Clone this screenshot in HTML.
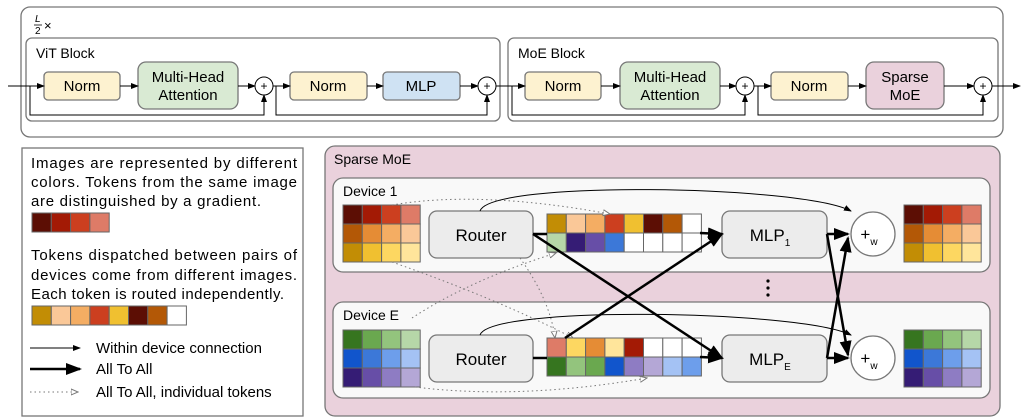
<!DOCTYPE html>
<html><head><meta charset="utf-8"><style>
body{margin:0;background:#fff}
svg{display:block;font-family:"Liberation Sans",sans-serif}
</style></head><body>
<svg width="1024" height="418" viewBox="0 0 1024 418" xmlns="http://www.w3.org/2000/svg">
<defs>
<marker id="a" markerWidth="8" markerHeight="6" refX="7" refY="3" orient="auto" markerUnits="userSpaceOnUse"><path d="M0,0 L8,3 L0,6z" fill="#000"/></marker>
<marker id="b" markerWidth="16" markerHeight="12" refX="14" refY="6" orient="auto" markerUnits="userSpaceOnUse"><path d="M0,0 L16,6 L0,12z" fill="#000"/></marker>
<marker id="d" markerWidth="8" markerHeight="8" refX="7" refY="4" orient="auto" markerUnits="userSpaceOnUse"><path d="M0,1 L7,4 L0,7z" fill="#fff" stroke="#777" stroke-width="1"/></marker>
</defs>
<rect x="21" y="7" width="982" height="130" rx="9" fill="#fff" stroke="#777" stroke-width="1.3"/>
<text x="35" y="22" font-size="10" font-style="italic">L</text><line x1="34" y1="25" x2="42" y2="25" stroke="#000" stroke-width="0.8"/><text x="35" y="34" font-size="10">2</text><text x="44" y="30" font-size="13">×</text>
<rect x="26" y="38" width="474" height="83" rx="6" fill="#fff" stroke="#777" stroke-width="1.3"/>
<rect x="508" y="38" width="490" height="83" rx="6" fill="#fff" stroke="#777" stroke-width="1.3"/>
<text x="36" y="58" font-size="14">ViT Block</text>
<text x="518" y="58" font-size="14">MoE Block</text>
<g stroke="#777" stroke-width="1.3">
<rect x="44" y="72" width="76" height="28" rx="4" fill="#fdf2d0"/>
<rect x="138" y="62" width="100" height="47" rx="8" fill="#d9ead3"/>
<rect x="290" y="72" width="77" height="28" rx="4" fill="#fdf2d0"/>
<rect x="383" y="72" width="77" height="28" rx="4" fill="#cfe2f3"/>
<rect x="525" y="72" width="76" height="28" rx="4" fill="#fdf2d0"/>
<rect x="620" y="62" width="100" height="47" rx="8" fill="#d9ead3"/>
<rect x="771" y="72" width="77" height="28" rx="4" fill="#fdf2d0"/>
<rect x="866" y="62" width="78" height="47" rx="8" fill="#ead1dc"/>
</g>
<g font-size="15" text-anchor="middle">
<text x="82" y="91">Norm</text><text x="188" y="82">Multi-Head</text><text x="188" y="100">Attention</text>
<text x="328" y="91">Norm</text><text x="421" y="91">MLP</text>
<text x="563" y="91">Norm</text><text x="670" y="82">Multi-Head</text><text x="670" y="100">Attention</text>
<text x="809" y="91">Norm</text><text x="905" y="82">Sparse</text><text x="905" y="100">MoE</text>
</g>
<g stroke="#000" stroke-width="1" fill="none">
<line x1="8" y1="86" x2="44" y2="86" marker-end="url(#a)"/>
<line x1="120" y1="86" x2="138" y2="86" marker-end="url(#a)"/>
<line x1="238" y1="86" x2="255" y2="86" marker-end="url(#a)"/>
<line x1="273" y1="86" x2="290" y2="86" marker-end="url(#a)"/>
<line x1="367" y1="86" x2="383" y2="86" marker-end="url(#a)"/>
<line x1="460" y1="86" x2="478" y2="86" marker-end="url(#a)"/>
<line x1="496" y1="86" x2="525" y2="86" marker-end="url(#a)"/>
<line x1="601" y1="86" x2="620" y2="86" marker-end="url(#a)"/>
<line x1="720" y1="86" x2="736" y2="86" marker-end="url(#a)"/>
<line x1="754" y1="86" x2="771" y2="86" marker-end="url(#a)"/>
<line x1="848" y1="86" x2="866" y2="86" marker-end="url(#a)"/>
<line x1="944" y1="86" x2="974" y2="86" marker-end="url(#a)"/>
<line x1="992" y1="86" x2="1020" y2="86" marker-end="url(#a)"/>
<polyline points="30,86 30,115 264,115 264,95" marker-end="url(#a)"/>
<polyline points="276,86 276,115 487,115 487,95" marker-end="url(#a)"/>
<polyline points="512,86 512,115 745,115 745,95" marker-end="url(#a)"/>
<polyline points="758,86 758,115 983,115 983,95" marker-end="url(#a)"/>
</g>
<g fill="#fff" stroke="#000" stroke-width="1">
<circle cx="264" cy="86" r="9"/><circle cx="487" cy="86" r="9"/><circle cx="745" cy="86" r="9"/><circle cx="983" cy="86" r="9"/>
</g>
<g font-size="12" text-anchor="middle"><text x="264" y="90">+</text><text x="487" y="90">+</text><text x="745" y="90">+</text><text x="983" y="90">+</text></g>

<rect x="22" y="148" width="281" height="268" fill="#fff" stroke="#777" stroke-width="1.3"/>
<g font-size="15">
<text x="31" y="168" textLength="266">Images are represented by different</text>
<text x="31" y="187" textLength="266">colors. Tokens from the same image</text>
<text x="31" y="206" textLength="230">are distinguished by a gradient.</text>
<text x="31" y="260" textLength="266">Tokens dispatched between pairs of</text>
<text x="31" y="280" textLength="266">devices come from different images.</text>
<text x="31" y="299" textLength="253">Each token is routed independently.</text>
<text x="96" y="353">Within device connection</text>
<text x="96" y="374">All To All</text>
<text x="96" y="397">All To All, individual tokens</text>
</g>
<g stroke="#666" stroke-width="1">
<rect x="32" y="213" width="19.3" height="19" fill="#5c0e04"/><rect x="51.3" y="213" width="19.3" height="19" fill="#a31a05"/><rect x="70.6" y="213" width="19.3" height="19" fill="#cc3f1f"/><rect x="89.9" y="213" width="19.3" height="19" fill="#de7b67"/>
<rect x="32" y="306" width="19.3" height="19" fill="#c28d05"/><rect x="51.3" y="306" width="19.3" height="19" fill="#fac898"/><rect x="70.6" y="306" width="19.3" height="19" fill="#f4ad63"/><rect x="89.9" y="306" width="19.3" height="19" fill="#cc3f1f"/><rect x="109.2" y="306" width="19.3" height="19" fill="#f0c030"/><rect x="128.5" y="306" width="19.3" height="19" fill="#5c0e04"/><rect x="147.8" y="306" width="19.3" height="19" fill="#b35806"/><rect x="167.1" y="306" width="19.3" height="19" fill="#fff"/>
</g>
<line x1="30" y1="348" x2="80" y2="348" stroke="#000" stroke-width="1" marker-end="url(#a)"/>
<line x1="30" y1="369" x2="80" y2="369" stroke="#000" stroke-width="2.5" marker-end="url(#b)"/>
<line x1="30" y1="392" x2="78" y2="392" stroke="#777" stroke-width="1" stroke-dasharray="1.5,3" marker-end="url(#d)"/>

<rect x="325" y="146" width="675" height="270" rx="10" fill="#ead1dc" stroke="#777" stroke-width="1.3"/>
<text x="334" y="164" font-size="14">Sparse MoE</text>
<rect x="333" y="178" width="657" height="94" rx="10" fill="#f9f9f9" stroke="#777" stroke-width="1.3"/>
<rect x="333" y="302" width="657" height="96" rx="10" fill="#f9f9f9" stroke="#777" stroke-width="1.3"/>
<text x="343" y="196" font-size="14">Device 1</text>
<text x="343" y="320" font-size="14">Device E</text>
<g fill="#000"><circle cx="768" cy="281" r="1.6"/><circle cx="768" cy="288" r="1.6"/><circle cx="768" cy="295" r="1.6"/></g>

<g stroke="#666" stroke-width="1">
<g transform="translate(343,205)">
<rect x="0" y="0" width="19.3" height="19" fill="#5c0e04"/><rect x="19.3" y="0" width="19.3" height="19" fill="#a31a05"/><rect x="38.6" y="0" width="19.3" height="19" fill="#cc3f1f"/><rect x="57.9" y="0" width="19.3" height="19" fill="#de7b67"/>
<rect x="0" y="19" width="19.3" height="19" fill="#b35806"/><rect x="19.3" y="19" width="19.3" height="19" fill="#e58c35"/><rect x="38.6" y="19" width="19.3" height="19" fill="#f4ad63"/><rect x="57.9" y="19" width="19.3" height="19" fill="#fac898"/>
<rect x="0" y="38" width="19.3" height="19" fill="#c28d05"/><rect x="19.3" y="38" width="19.3" height="19" fill="#f0c030"/><rect x="38.6" y="38" width="19.3" height="19" fill="#fdd761"/><rect x="57.9" y="38" width="19.3" height="19" fill="#ffe59b"/>
</g>
<g transform="translate(904,205)">
<rect x="0" y="0" width="19.3" height="19" fill="#5c0e04"/><rect x="19.3" y="0" width="19.3" height="19" fill="#a31a05"/><rect x="38.6" y="0" width="19.3" height="19" fill="#cc3f1f"/><rect x="57.9" y="0" width="19.3" height="19" fill="#de7b67"/>
<rect x="0" y="19" width="19.3" height="19" fill="#b35806"/><rect x="19.3" y="19" width="19.3" height="19" fill="#e58c35"/><rect x="38.6" y="19" width="19.3" height="19" fill="#f4ad63"/><rect x="57.9" y="19" width="19.3" height="19" fill="#fac898"/>
<rect x="0" y="38" width="19.3" height="19" fill="#c28d05"/><rect x="19.3" y="38" width="19.3" height="19" fill="#f0c030"/><rect x="38.6" y="38" width="19.3" height="19" fill="#fdd761"/><rect x="57.9" y="38" width="19.3" height="19" fill="#ffe59b"/>
</g>
<g transform="translate(343,330)">
<rect x="0" y="0" width="19.3" height="19" fill="#36751f"/><rect x="19.3" y="0" width="19.3" height="19" fill="#6aa84f"/><rect x="38.6" y="0" width="19.3" height="19" fill="#93c47d"/><rect x="57.9" y="0" width="19.3" height="19" fill="#b6d7a8"/>
<rect x="0" y="19" width="19.3" height="19" fill="#1155cc"/><rect x="19.3" y="19" width="19.3" height="19" fill="#3c78d8"/><rect x="38.6" y="19" width="19.3" height="19" fill="#6d9eeb"/><rect x="57.9" y="19" width="19.3" height="19" fill="#a4c2f4"/>
<rect x="0" y="38" width="19.3" height="19" fill="#351c75"/><rect x="19.3" y="38" width="19.3" height="19" fill="#674ea7"/><rect x="38.6" y="38" width="19.3" height="19" fill="#8e7cc3"/><rect x="57.9" y="38" width="19.3" height="19" fill="#b4a7d6"/>
</g>
<g transform="translate(904,330)">
<rect x="0" y="0" width="19.3" height="19" fill="#36751f"/><rect x="19.3" y="0" width="19.3" height="19" fill="#6aa84f"/><rect x="38.6" y="0" width="19.3" height="19" fill="#93c47d"/><rect x="57.9" y="0" width="19.3" height="19" fill="#b6d7a8"/>
<rect x="0" y="19" width="19.3" height="19" fill="#1155cc"/><rect x="19.3" y="19" width="19.3" height="19" fill="#3c78d8"/><rect x="38.6" y="19" width="19.3" height="19" fill="#6d9eeb"/><rect x="57.9" y="19" width="19.3" height="19" fill="#a4c2f4"/>
<rect x="0" y="38" width="19.3" height="19" fill="#351c75"/><rect x="19.3" y="38" width="19.3" height="19" fill="#674ea7"/><rect x="38.6" y="38" width="19.3" height="19" fill="#8e7cc3"/><rect x="57.9" y="38" width="19.3" height="19" fill="#b4a7d6"/>
</g>
<g transform="translate(547,214)">
<rect x="0" y="0" width="19.3" height="19" fill="#c28d05"/><rect x="19.3" y="0" width="19.3" height="19" fill="#fac898"/><rect x="38.6" y="0" width="19.3" height="19" fill="#f4ad63"/><rect x="57.9" y="0" width="19.3" height="19" fill="#cc3f1f"/><rect x="77.2" y="0" width="19.3" height="19" fill="#f0c030"/><rect x="96.5" y="0" width="19.3" height="19" fill="#5c0e04"/><rect x="115.8" y="0" width="19.3" height="19" fill="#b35806"/><rect x="135.1" y="0" width="19.3" height="19" fill="#fff"/>
<rect x="0" y="19" width="19.3" height="19" fill="#b6d7a8"/><rect x="19.3" y="19" width="19.3" height="19" fill="#351c75"/><rect x="38.6" y="19" width="19.3" height="19" fill="#674ea7"/><rect x="57.9" y="19" width="19.3" height="19" fill="#3c78d8"/><rect x="77.2" y="19" width="19.3" height="19" fill="#fff"/><rect x="96.5" y="19" width="19.3" height="19" fill="#fff"/><rect x="115.8" y="19" width="19.3" height="19" fill="#fff"/><rect x="135.1" y="19" width="19.3" height="19" fill="#fff"/>
</g>
<g transform="translate(547,338)">
<rect x="0" y="0" width="19.3" height="19" fill="#de7b67"/><rect x="19.3" y="0" width="19.3" height="19" fill="#fdd761"/><rect x="38.6" y="0" width="19.3" height="19" fill="#e58c35"/><rect x="57.9" y="0" width="19.3" height="19" fill="#ffe59b"/><rect x="77.2" y="0" width="19.3" height="19" fill="#a31a05"/><rect x="96.5" y="0" width="19.3" height="19" fill="#fff"/><rect x="115.8" y="0" width="19.3" height="19" fill="#fff"/><rect x="135.1" y="0" width="19.3" height="19" fill="#fff"/>
<rect x="0" y="19" width="19.3" height="19" fill="#36751f"/><rect x="19.3" y="19" width="19.3" height="19" fill="#93c47d"/><rect x="38.6" y="19" width="19.3" height="19" fill="#6aa84f"/><rect x="57.9" y="19" width="19.3" height="19" fill="#1155cc"/><rect x="77.2" y="19" width="19.3" height="19" fill="#8e7cc3"/><rect x="96.5" y="19" width="19.3" height="19" fill="#b4a7d6"/><rect x="115.8" y="19" width="19.3" height="19" fill="#a4c2f4"/><rect x="135.1" y="19" width="19.3" height="19" fill="#6d9eeb"/>
</g>
</g>
<g stroke="#777" stroke-width="1.3" fill="#ececec">
<rect x="429" y="211" width="104" height="47" rx="8"/>
<rect x="429" y="335" width="104" height="47" rx="8"/>
<rect x="722" y="211" width="105" height="47" rx="8"/>
<rect x="722" y="335" width="105" height="47" rx="8"/>
</g>
<g font-size="17" text-anchor="middle">
<text x="481" y="241">Router</text><text x="481" y="365">Router</text>
<text x="770" y="241">MLP<tspan font-size="10" dy="5">1</tspan></text>
<text x="770" y="365">MLP<tspan font-size="10" dy="5">E</tspan></text>
</g>
<g stroke="#777" stroke-width="1" stroke-dasharray="1.5,3" fill="none">
<path d="M392,205 Q480,190 610,214" marker-end="url(#d)"/>
<path d="M392,262 Q500,300 573,338" marker-end="url(#d)"/>
<path d="M520,258 Q550,300 555,338" marker-end="url(#d)"/>
<path d="M412,318 Q470,280 556,253" marker-end="url(#d)"/>
<path d="M415,387 Q520,400 647,378" marker-end="url(#d)"/>
</g>
<g stroke="#000" stroke-width="1" fill="none">
<path d="M480,211 C490,180 800,185 851,211" marker-end="url(#a)"/>
<path d="M480,335 C490,305 800,310 851,335" marker-end="url(#a)"/>
</g>
<g stroke="#000" stroke-width="2.5" fill="none">
<line x1="533" y1="234" x2="547" y2="234"/>
<line x1="533" y1="358" x2="547" y2="358"/>
<line x1="700" y1="233" x2="722" y2="234" marker-end="url(#b)"/>
<line x1="700" y1="357" x2="722" y2="358" marker-end="url(#b)"/>
<line x1="533" y1="234" x2="722" y2="358" marker-end="url(#b)"/>
<line x1="565" y1="338" x2="722" y2="234" marker-end="url(#b)"/>
<line x1="827" y1="234" x2="848" y2="234" marker-end="url(#b)"/>
<line x1="827" y1="358" x2="848" y2="358" marker-end="url(#b)"/>
<line x1="827" y1="234" x2="848" y2="355" marker-end="url(#b)"/>
<line x1="827" y1="358" x2="848" y2="238" marker-end="url(#b)"/>
</g>
<g fill="#fff" stroke="#777" stroke-width="1.3"><circle cx="873" cy="234" r="22"/><circle cx="873" cy="358" r="22"/></g>
<g font-size="17" text-anchor="middle">
<text x="869" y="240">+<tspan font-size="10" dy="5">w</tspan></text>
<text x="869" y="364">+<tspan font-size="10" dy="5">w</tspan></text>
</g>
</svg>
</body></html>
